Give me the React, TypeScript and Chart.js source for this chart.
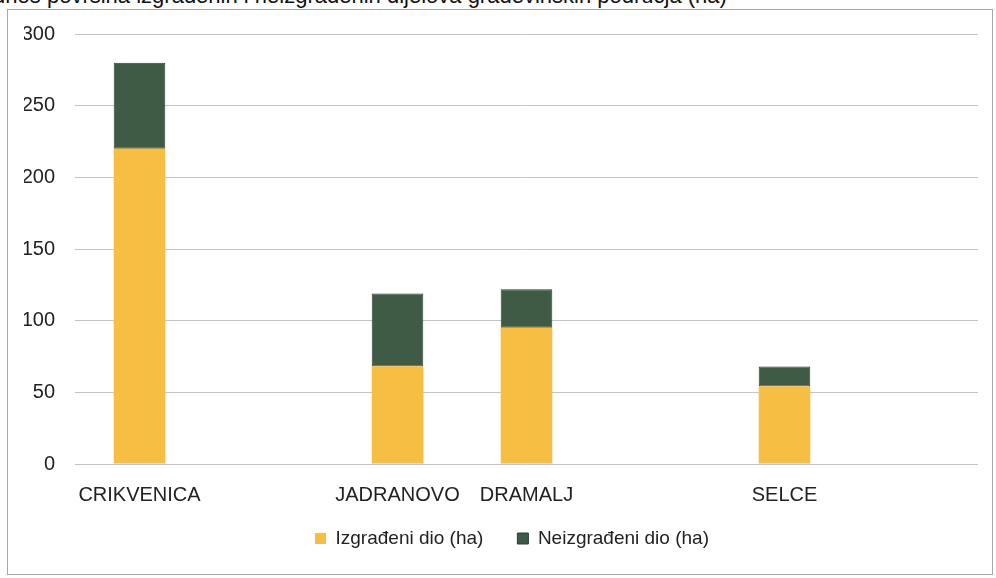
import React, { useEffect, useRef } from "react";
import { Chart, registerables } from "chart.js";

Chart.register(...registerables);

const categories = ["CRIKVENICA", "", "JADRANOVO", "DRAMALJ", "", "SELCE", ""];
const builtValues = [220, null, 68, 95, null, 54, null];
const unbuiltValues = [60, null, 51, 27, null, 14, null];
const yTicks = [0, 50, 100, 150, 200, 250, 300];
const seriesNames = ["Izgrađeni dio (ha)", "Neizgrađeni dio (ha)"];
const titleText = "Odnos površina izgrađenih i neizgrađenih dijelova građevinskih područja (ha)";

const FONT = "'Liberation Sans', Arial, sans-serif";

const legendShift = {
  id: "legendShift",
  afterLayout(chart: any) {
    const l = chart.legend;
    if (l) {
      l.left += 11;
      l.right += 11;
      l.top -= 23;
      l.bottom -= 23;
    }
  },
};

export default function App() {
  const ref = useRef<HTMLCanvasElement | null>(null);

  useEffect(() => {
    if (!ref.current) return;
    const chart = new Chart(ref.current, {
      type: "bar",
      data: {
        labels: categories,
        datasets: [
          {
            label: seriesNames[0],
            data: builtValues,
            backgroundColor: "#F6BE42",
            borderWidth: 0,
            barPercentage: 0.4,
            categoryPercentage: 1,
          },
          {
            label: seriesNames[1],
            data: unbuiltValues,
            backgroundColor: "#3F5B45",
            borderColor: "#2C3F33",
            borderWidth: 1,
            borderSkipped: false,
            barPercentage: 0.4,
            categoryPercentage: 1,
          },
        ],
      },
      plugins: [legendShift],
      options: {
        animation: false,
        responsive: false,
        maintainAspectRatio: false,
        layout: { padding: { left: 24, right: 18, top: 34, bottom: 0 } },
        plugins: {
          title: { display: false },
          tooltip: { enabled: false },
          legend: {
            position: "bottom",
            maxHeight: 60,
            labels: {
              boxWidth: 11,
              boxHeight: 11,
              padding: 34,
              color: "#222",
              font: { family: FONT, size: 19 },
            },
          },
        },
        scales: {
          x: {
            stacked: true,
            grid: { display: false, drawTicks: false },
            border: { display: false },
            afterFit: (axis: any) => {
              axis.height = 54;
            },
            ticks: {
              color: "#222",
              font: { family: FONT, size: 20 },
              padding: 19,
              maxRotation: 0,
              autoSkip: false,
            },
          },
          y: {
            stacked: true,
            min: 0,
            max: 300,
            afterBuildTicks: (axis: any) => {
              axis.ticks = yTicks.map((v) => ({ value: v }));
            },
            afterFit: (axis: any) => {
              axis.width = 51;
            },
            grid: { color: "#c4c4c4", lineWidth: 1, drawTicks: false },
            border: { display: false },
            ticks: {
              color: "#222",
              font: { family: FONT, size: 20 },
              padding: 20,
            },
          },
        },
      },
    });
    return () => chart.destroy();
  }, []);

  return (
    <div
      style={{
        position: "fixed",
        left: 0,
        top: 0,
        width: 996,
        height: 578,
        background: "#fff",
        overflow: "hidden",
      }}
    >
      <div
        style={{
          position: "absolute",
          left: -24,
          top: -17,
          whiteSpace: "nowrap",
          fontFamily: "'Liberation Sans', Arial, sans-serif",
          fontSize: 22,
          color: "#111",
        }}
      >
        {titleText}
      </div>
      <div
        style={{
          position: "absolute",
          left: 7,
          top: 9,
          width: 986,
          height: 566,
          border: "1px solid #a8a8a8",
          boxSizing: "border-box",
        }}
      />
      <canvas
        ref={ref}
        width={996}
        height={578}
        style={{ position: "absolute", left: 0, top: 0, width: 996, height: 578 }}
      />
    </div>
  );
}
